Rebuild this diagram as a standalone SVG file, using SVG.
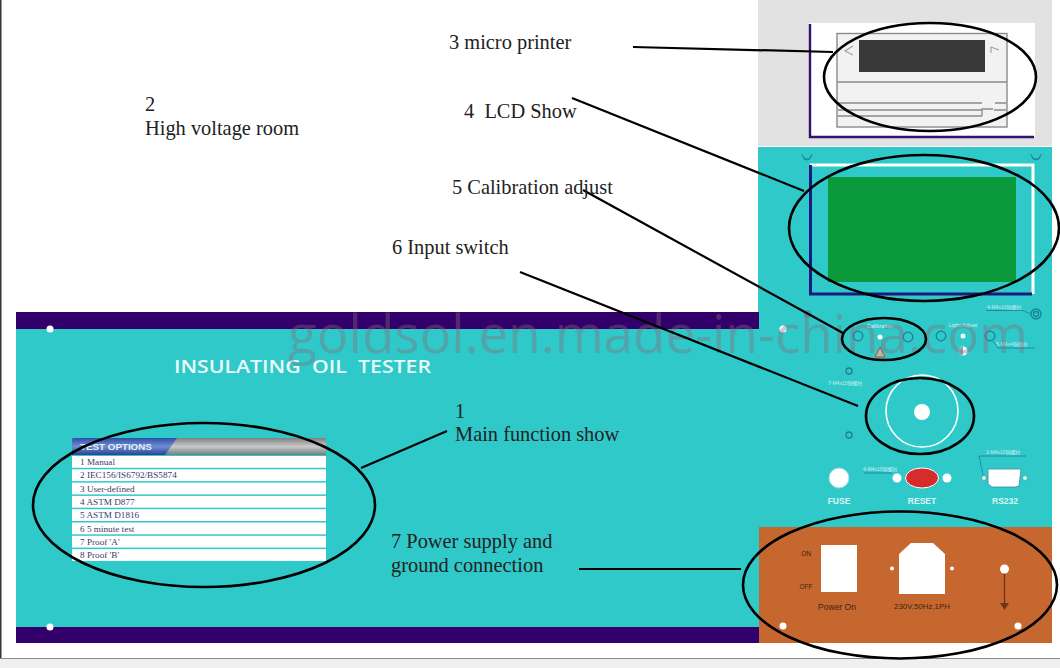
<svg xmlns="http://www.w3.org/2000/svg" width="1060" height="668" viewBox="0 0 1060 668">
<style>
.lbl{font-family:"Liberation Serif",serif;font-size:20.4px;fill:#222}
.row{fill:#fff}
.rowt{font-family:"Liberation Serif",serif;font-size:9.2px;fill:#3b3a6a}
.ell{fill:none;stroke:#000;stroke-width:2.6}
.con{fill:none;stroke:#000;stroke-width:2.2}
.tiny{font-family:"Liberation Sans","Noto Sans CJK SC",sans-serif;font-size:5px;fill:#cdeff0}
.sans{font-family:"Liberation Sans",sans-serif}
.hole{fill:none;stroke:#1c7f98;stroke-width:1.3}
.wd{fill:#fff}
</style>
<defs>
<linearGradient id="hdr" x1="0" y1="0" x2="0" y2="1"><stop offset="0" stop-color="#7f7f7f"/><stop offset=".5" stop-color="#c9c9c9"/><stop offset="1" stop-color="#6f7f7f"/></linearGradient>
<linearGradient id="hdb" x1="0" y1="0" x2="0" y2="1"><stop offset="0" stop-color="#2f4fa8"/><stop offset=".5" stop-color="#6d8fd0"/><stop offset="1" stop-color="#2c3f96"/></linearGradient>
</defs>
<rect width="1060" height="668" fill="#fff"/>
<rect x="0" y="0" width="1.5" height="659" fill="#333"/>
<rect x="0" y="659" width="1060" height="9" fill="#f0f0f0"/>
<rect x="0" y="658" width="1060" height="1" fill="#888"/>

<g id="panel">
<rect x="758" y="0" width="294" height="146" fill="#e2e2e2"/>
<rect x="758" y="147" width="294" height="381" fill="#30c9c9"/>
<rect x="16" y="312" width="743" height="331" fill="#30c9c9"/>
<rect x="16" y="312" width="743" height="17" fill="#33006b"/>
<rect x="16" y="627" width="743" height="16" fill="#33006b"/>
<circle cx="50" cy="329" r="3.5" class="wd"/>
<circle cx="50" cy="627" r="3.5" class="wd"/>
<text x="174" y="373" font-family="'Open Sans','Liberation Sans',sans-serif" font-size="18" font-weight="600" fill="#eafafa" word-spacing="5" textLength="257" lengthAdjust="spacingAndGlyphs">INSULATING OIL TESTER</text>
</g>

<g id="printer">
<rect x="809" y="23" width="226" height="114" fill="#fff"/>
<path d="M810 24V137H1034" fill="none" stroke="#33106e" stroke-width="2.4"/>
<rect x="837" y="33.500" width="170" height="93.500" fill="#f2f2f2" stroke="#8a8a8a" stroke-width="1.400"/>
<rect x="859" y="40" width="126" height="32" fill="#383838"/>
<path d="M837 82H1007M838 103H982M995 103H1006M838 110H982M838 116H982M982 116V109H993M994 110H1006" fill="none" stroke="#8a8a8a" stroke-width="1.300"/>
<path d="M853 46L845 51L853 55M991 47L999 50M991 47L991 53" fill="none" stroke="#a0a0a0" stroke-width="1.200"/>
</g>

<g id="lcd">
<path d="M810 165H1033V294" fill="none" stroke="#fff" stroke-width="3"/>
<path d="M810.500 165V294H1032" fill="none" stroke="#1b1a80" stroke-width="3"/>
<rect x="828" y="177" width="188" height="105" fill="#0a9a3c"/>
<path d="M802 154a5 5 0 0 0 10 0M803 156a4 4 0 0 0 8 0M1031 154a5 5 0 0 0 10 0M1032 156a4 4 0 0 0 8 0" fill="none" stroke="#1c7f98" stroke-width=".9"/>
</g>

<g id="controls">
<circle cx="807.500" cy="314" r="4" fill="#4a9aa8"/>
<circle cx="783" cy="329" r="3.500" class="wd"/>
<circle cx="1036" cy="314" r="5" class="hole"/><circle cx="1036" cy="314" r="2.500" class="hole"/>
<text x="987" y="309" class="tiny">4-M4x10铜螺柱</text>
<path d="M986 310.500H1023L1031 314" fill="none" stroke="#1c7f98" stroke-width=".8"/>
<text x="880" y="328" class="sans" font-size="5.500" fill="#d8f4f4" text-anchor="middle">Calibration</text>
<circle cx="858" cy="336" r="4.800" class="hole"/>
<circle cx="880" cy="337" r="2.500" class="wd"/>
<circle cx="908" cy="337" r="4.800" class="hole"/>
<path d="M880 347L875 357H885Z" fill="#b9b99a" stroke="#a8484a" stroke-width="1"/>
<text x="963" y="327" class="sans" font-size="5.500" fill="#d8f4f4" text-anchor="middle">Light Adjust</text>
<circle cx="941" cy="336" r="4.800" class="hole"/>
<circle cx="963" cy="336" r="2.500" class="wd"/>
<circle cx="990" cy="336" r="4.800" class="hole"/>
<circle cx="963" cy="351" r="4.500" class="wd"/>
<path d="M963 346.500a4.500 4.500 0 0 0 0 9Z" fill="#7fb0b0"/>
<text x="996" y="346" class="tiny">5-M4x4铜螺柱</text>
<path d="M993 341L998 348H1035" fill="none" stroke="#1c7f98" stroke-width=".8"/>
<circle cx="849" cy="371" r="3" class="hole"/>
<circle cx="849" cy="435" r="3" class="hole"/>
<text x="828" y="385" class="tiny">7-M4x10铜螺柱</text>
<circle cx="922" cy="411" r="36" fill="none" stroke="#fff" stroke-width="1.600"/>
<circle cx="922" cy="412" r="8" class="wd"/>
<circle cx="839" cy="478" r="10" class="wd" stroke="#9adcdc"/>
<text x="839" y="504" class="sans" font-size="8.500" font-weight="bold" fill="#dff6f6" text-anchor="middle">FUSE</text>
<ellipse cx="922" cy="478" rx="16.500" ry="10" fill="#d62c2c" stroke="#fff" stroke-width="1"/>
<circle cx="897" cy="478" r="4.500" class="wd"/>
<circle cx="947" cy="478" r="4.500" class="wd"/>
<text x="922" y="504" class="sans" font-size="8.500" font-weight="bold" fill="#dff6f6" text-anchor="middle">RESET</text>
<text x="863" y="471" class="tiny">4-M4x10铜螺柱</text>
<path d="M864 473H892" fill="none" stroke="#1c7f98" stroke-width=".8"/>
<path d="M988 469H1021L1019 486L1015 487H992L988 484Z" fill="#fff" stroke="#3a8aa0" stroke-width=".8"/>
<circle cx="984" cy="478" r="2.500" fill="#cfe" stroke="#4a8a90" stroke-width=".7"/>
<circle cx="1025" cy="478" r="2.500" fill="#cfe" stroke="#4a8a90" stroke-width=".7"/>
<text x="986" y="454" class="tiny">2-M4x10铜螺柱</text>
<path d="M1026 456H979L983 475" fill="none" stroke="#1c7f98" stroke-width=".8"/>
<text x="1005" y="504" class="sans" font-size="8.500" font-weight="bold" fill="#dff6f6" text-anchor="middle">RS232</text>
</g>

<g id="power">
<rect x="759" y="527" width="293" height="116" fill="#c76730"/>
<circle cx="783" cy="626" r="3.500" class="wd"/>
<circle cx="1018" cy="626" r="3.500" class="wd"/>
<text x="806" y="556" class="sans" font-size="6.500" fill="#3d2210" text-anchor="middle">ON</text>
<text x="806" y="589" class="sans" font-size="6.500" fill="#3d2210" text-anchor="middle">OFF</text>
<rect x="821" y="545" width="36" height="47" class="wd"/>
<text x="837" y="610" class="sans" font-size="8.500" fill="#3d2210" text-anchor="middle">Power On</text>
<path d="M899 554L911 543H933L945 554V594H899Z" class="wd"/>
<circle cx="892" cy="568.500" r="2" class="wd"/>
<circle cx="952" cy="568.500" r="2" class="wd"/>
<text x="922" y="609" class="sans" font-size="7.900" fill="#3d2210" text-anchor="middle">230V,50Hz,1PH</text>
<circle cx="1004.500" cy="569" r="4.500" class="wd"/>
<path d="M1004.500 574V603" stroke="#6a2c18" stroke-width="1.200" fill="none"/>
<path d="M1000 603H1009L1004.500 610Z" fill="#6a3a18"/>
</g>

<g id="options">
<rect x="72" y="438" width="254" height="17" fill="url(#hdr)"/>
<path d="M72 440Q72 438 74 438H177L165 455H72Z" fill="url(#hdb)"/>
<text x="80" y="450" class="sans" font-size="9.800" font-weight="bold" fill="#e8eef8">TEST OPTIONS</text>
<rect class="row" x="72" y="456" width="254" height="11.800"/><text class="rowt" x="80" y="465">1 Manual</text>
<rect class="row" x="72" y="469.300" width="254" height="11.800"/><text class="rowt" x="80" y="478.300">2 IEC156/IS6792/BS5874</text>
<rect class="row" x="72" y="482.600" width="254" height="11.800"/><text class="rowt" x="80" y="491.600">3 User-defined</text>
<rect class="row" x="72" y="495.900" width="254" height="11.800"/><text class="rowt" x="80" y="504.900">4 ASTM D877</text>
<rect class="row" x="72" y="509.200" width="254" height="11.800"/><text class="rowt" x="80" y="518.200">5 ASTM D1816</text>
<rect class="row" x="72" y="522.500" width="254" height="11.800"/><text class="rowt" x="80" y="531.500">6 5 minute test</text>
<rect class="row" x="72" y="535.800" width="254" height="11.800"/><text class="rowt" x="80" y="544.800">7 Proof 'A'</text>
<rect class="row" x="72" y="549.100" width="254" height="11.800"/><text class="rowt" x="80" y="558.100">8 Proof 'B'</text>
</g>

<text id="watermark" x="288" y="353" font-family="'Open Sans','Liberation Sans',sans-serif" font-size="53" fill="#8a6a7a" fill-opacity=".38" textLength="740" lengthAdjust="spacingAndGlyphs">goldsol.en.made-in-china.com</text>

<g id="connectors">
<path class="con" d="M633 47L833 52"/>
<path class="con" d="M572 98L804 191"/>
<path class="con" d="M583 190L843 333"/>
<path class="con" d="M520 272L858 406"/>
<path class="con" d="M447 431L361 468"/>
<path class="con" d="M579 569L741 569"/>
<ellipse class="ell" cx="930" cy="77" rx="106" ry="54"/>
<ellipse class="ell" cx="924" cy="228" rx="135" ry="73"/>
<ellipse class="ell" cx="884" cy="339" rx="42" ry="21"/>
<ellipse class="ell" cx="920" cy="416" rx="54" ry="38"/>
<ellipse class="ell" cx="900" cy="585" rx="157" ry="73.500"/>
<ellipse class="ell" cx="204" cy="505" rx="171" ry="82"/>
</g>

<g id="labels">
<text class="lbl" x="449" y="49">3 micro printer</text>
<text class="lbl" x="145" y="111">2</text>
<text class="lbl" x="145" y="135">High voltage room</text>
<text class="lbl" x="464" y="118" xml:space="preserve">4  LCD Show</text>
<text class="lbl" x="452" y="194">5 Calibration adjust</text>
<text class="lbl" x="392" y="254">6 Input switch</text>
<text class="lbl" x="455" y="418">1</text>
<text class="lbl" x="455" y="441">Main function show</text>
<text class="lbl" x="391" y="548">7 Power supply and</text>
<text class="lbl" x="391" y="572">ground connection</text>
</g>
</svg>
